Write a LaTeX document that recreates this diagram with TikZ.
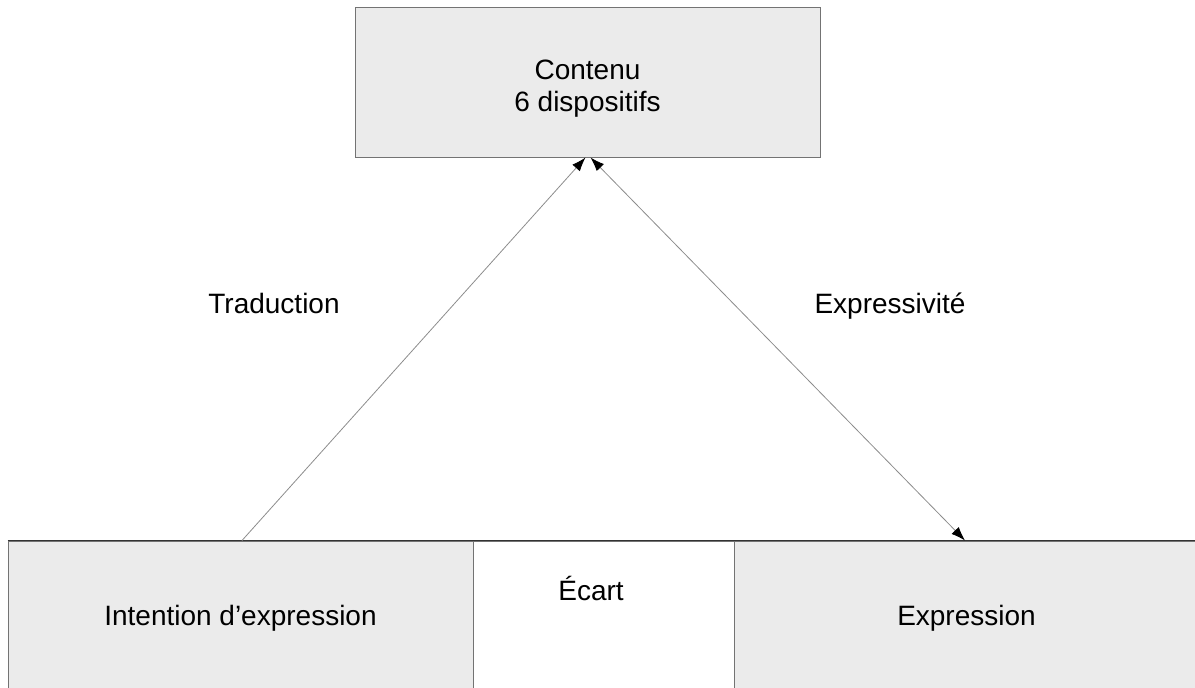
\documentclass[tikz,border=0pt]{standalone}
\usepackage{fontspec}
\setmainfont{Liberation Sans}
\usetikzlibrary{arrows.meta}
\tikzset{
  boite/.style={draw=black!55, fill=black!8, line width=1pt, minimum width=465pt, minimum height=148pt, inner sep=0pt, align=center, text depth=0pt},
  etiquette/.style={text depth=0pt},
  fleche/.style={draw=black!45, line width=0.8pt}
}
\begin{document}
\begin{tikzpicture}[x=1pt,y=-1pt,font=\fontsize{28}{32}\selectfont]
    \useasboundingbox (0,0) rectangle (1195,688);
    \node[boite, minimum height=150pt, text height=58pt] (contenu) at (587.5,82) {Contenu\\6 dispositifs};
    \node[boite] (intention) at (240.5,615) {Intention d’expression};
    \node[boite, fill=white, minimum width=261pt] (ecart) at (603.5,615) {};
    \node[boite] (expression) at (966.5,615) {Expression};
    \draw[black!80, line width=1pt] (intention.north west) -- (expression.north east);
    \node[etiquette] (ecartlbl) at (591,588) {Écart};
    \node[etiquette] (traduction) at (274,303) {Traduction};
    \node[etiquette] (expressivite) at (890,303) {Expressivité};
    %\draw (contenu.south) -- (ecart.north);
    \draw[fleche, -{Latex[length=14pt,width=10pt,black]}] ([xshift=1.5pt]intention.north) -- ([xshift=-2pt]contenu.south);
    \draw[fleche, {Latex[length=14pt,width=10pt,black]}-{Latex[length=14pt,width=10pt,black]}] ([xshift=3pt]contenu.south) -- ([xshift=-1.5pt]expression.north);
\end{tikzpicture}
\end{document}
